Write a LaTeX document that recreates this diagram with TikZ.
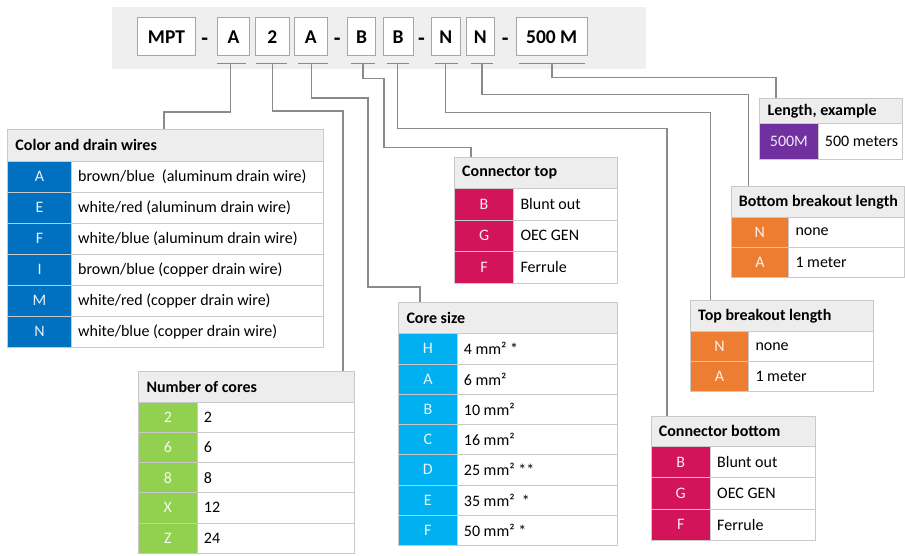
\documentclass[tikz,border=0pt]{standalone}
\usepackage{fontspec}
\setmainfont{Carlito}
\definecolor{cblue}{HTML}{0070C0}
\definecolor{cgreen}{HTML}{92D050}
\definecolor{ccyan}{HTML}{00B0F0}
\definecolor{cmag}{HTML}{D4145A}
\definecolor{cpurple}{HTML}{7030A0}
\definecolor{corange}{HTML}{ED7D31}
\definecolor{hdrgray}{HTML}{EDEDED}
\definecolor{bargray}{HTML}{EFEFEF}
\definecolor{bordgray}{HTML}{C9C9C9}
\definecolor{linegray}{HTML}{8A8A8A}
\definecolor{boxgray}{HTML}{A6A6A6}
\tikzset{
  conn/.style={draw=linegray, line width=1.2pt},
  uline/.style={draw=linegray, line width=1.1pt},
  hdrbox/.style={draw=bordgray, fill=hdrgray, line width=0.8pt, inner sep=0pt},
  cellbox/.style={draw=bordgray, fill=white, line width=0.8pt, inner sep=0pt},
  codebox/.style={draw=bordgray, fill=tabcol, line width=0.8pt, inner sep=0pt,
    text=white!90!tabcol, font=\fontsize{16}{18}\selectfont},
  hdrtext/.style={inner sep=0pt, font=\fontsize{16}{18}\selectfont\bfseries},
  celltext/.style={inner sep=0pt, font=\fontsize{16}{18}\selectfont},
  topbox/.style={draw=boxgray, fill=white, line width=1pt, inner sep=0pt,
    minimum height=37.9pt, font=\fontsize{19.5}{22}\selectfont\bfseries},
  dashtext/.style={inner sep=0pt, font=\fontsize{22}{24}\selectfont\bfseries},
}
\newcommand\spectab[9]{%
  \xdef\tL{#2}\xdef\tR{#4}\xdef\tC{#5}\xdef\tH{#6}\xdef\tRH{#7}\xdef\tN{#1}%
  \colorlet{tabcol}{#8}%
  \node[hdrbox, anchor=north west, minimum width={(#4-#2)*1pt},
        minimum height={(#6-#3)*1pt}] (#1) at (#2,#3) {};
  \node[hdrtext, anchor=west] (#1-h) at ([xshift=8pt]#1.west) {#9};
}
\newcommand\specrows[1]{%
  \foreach \cd/\txt [count=\i] in {#1} {
    \pgfmathsetmacro\yt{\tH+(\i-1)*\tRH}
    \node[codebox, anchor=north west, minimum width={(\tC-\tL)*1pt},
          minimum height={\tRH*1pt}] (\tN-c\i) at (\tL,\yt) {\cd};
    \node[cellbox, anchor=north west, minimum width={(\tR-\tC)*1pt},
          minimum height={\tRH*1pt}] (\tN-t\i) at (\tC,\yt) {};
    \node[celltext, anchor=west] (\tN-x\i) at ([xshift=7pt]\tN-t\i.west) {\txt};
  }
}
\begin{document}
\begin{tikzpicture}[x=1pt, y=-1pt]
\useasboundingbox (0,0) rectangle (905,556);
% top code bar
\fill[bargray] (112,7) rectangle (646,69);
\node[topbox, minimum width=57.9pt] (bMPT) at (166.5,36.8) {MPT};
\node[dashtext] (d1) at (204.7,41.5) {-};
\node[topbox, minimum width=31.7pt] (bA1) at (233.6,36.8) {A};
\node[topbox, minimum width=33.8pt] (b2) at (272.2,36.8) {2};
\node[topbox, minimum width=33.4pt] (bA3) at (310.9,36.8) {A};
\node[dashtext] (d2) at (337.3,41.5) {-};
\node[topbox, minimum width=28.2pt] (bB1) at (361.7,36.8) {B};
\node[topbox, minimum width=30pt] (bB2) at (398,36.8) {B};
\node[dashtext] (d3) at (421.6,41.5) {-};
\node[topbox, minimum width=28.9pt] (bN1) at (445.8,36.8) {N};
\node[topbox, minimum width=27.6pt] (bN2) at (480.2,36.8) {N};
\node[dashtext] (d4) at (505.3,41.5) {-};
\node[topbox, minimum width=70.7pt] (bL) at (551.7,36.8) {500 M};
% underlines
\draw[uline] (216.7,63.7) -- (246,63.7);
\draw[uline] (256,63.7) -- (287,63.7);
\draw[uline] (297.7,63.7) -- (327.6,63.7);
\draw[uline] (351,63.7) -- (374.5,63.7);
\draw[uline] (386.5,63.7) -- (409,63.7);
\draw[uline] (434.7,63.7) -- (457.8,63.7);
\draw[uline] (470.5,63.7) -- (493,63.7);
\draw[uline] (519,63.7) -- (584.5,63.7);
\coordinate (u1) at (230.5,63.7);
\coordinate (u2) at (272.5,63.7);
\coordinate (u3) at (311.4,63.7);
\coordinate (u4) at (363,63.7);
\coordinate (u5) at (397.5,63.7);
\coordinate (u6) at (445.7,63.7);
\coordinate (u7) at (482,63.7);
\coordinate (u8) at (552,63.7);
% tables
\spectab{color}{7.3}{129}{322.7}{71}{160.7}{31}{cblue}{Color and drain wires}
\specrows{A/{brown/blue\ \ (aluminum drain wire)}, E/{white/red (aluminum drain wire)},
  F/{white/blue (aluminum drain wire)}, I/{brown/blue (copper drain wire)},
  M/{white/red (copper drain wire)}, N/{white/blue (copper drain wire)}}
\spectab{cores}{138.3}{370.7}{354}{196.7}{401.7}{30.2}{cgreen}{Number of cores}
\specrows{2/2, 6/6, 8/8, X/12, Z/24}
\spectab{csize}{398.3}{302.3}{617.3}{456.7}{333.3}{30.24}{ccyan}{Core size}
\specrows{H/{4 mm² *}, A/{6 mm²}, B/{10 mm²}, C/{16 mm²}, D/{25 mm² **},
  E/{35 mm²\ \ *}, F/{50 mm² *}}
\spectab{ctop}{454}{156.7}{616.7}{513.3}{188.3}{31.4}{cmag}{Connector top}
\specrows{B/{Blunt out}, G/{OEC GEN}, F/{Ferrule}}
\spectab{cbot}{650.7}{416}{815}{710}{446}{31.3}{cmag}{Connector bottom}
\specrows{B/{Blunt out}, G/{OEC GEN}, F/{Ferrule}}
\spectab{tbrk}{690}{300}{873.3}{748.3}{331}{30}{corange}{Top breakout length}
\specrows{N/none, A/{1 meter}}
\spectab{bbrk}{730.7}{186}{904}{788.3}{216.7}{30}{corange}{Bottom breakout length}
\specrows{N/none, A/{1 meter}}
\spectab{len}{759.3}{98.3}{902}{817.7}{122.7}{36.3}{cpurple}{Length, example}
\specrows{500M/{500 meters}}
% connectors
\draw[conn] (u1) |- (164,112) -- ([xshift=156.7pt]color.north west);
\draw[conn] (u2) |- (343,111) -- ([xshift=204.7pt]cores.north west);
\draw[conn] (u3) |- (368,98) |- (420,287) -- ([xshift=21.7pt]csize.north west);
\draw[conn] (u4) |- (384,78.3) |- (471,147.7) -- ([xshift=17pt]ctop.north west);
\draw[conn] (u5) |- (667,128.5) -- ([xshift=16.3pt]cbot.north west);
\draw[conn] (u6) |- (710.5,112.3) -- ([xshift=20.5pt]tbrk.north west);
\draw[conn] (u7) |- (748.5,94.3) -- ([xshift=17.8pt]bbrk.north west);
\draw[conn] (u8) |- (776,77.7) -- ([xshift=16.7pt]len.north west);
\end{tikzpicture}
\end{document}
